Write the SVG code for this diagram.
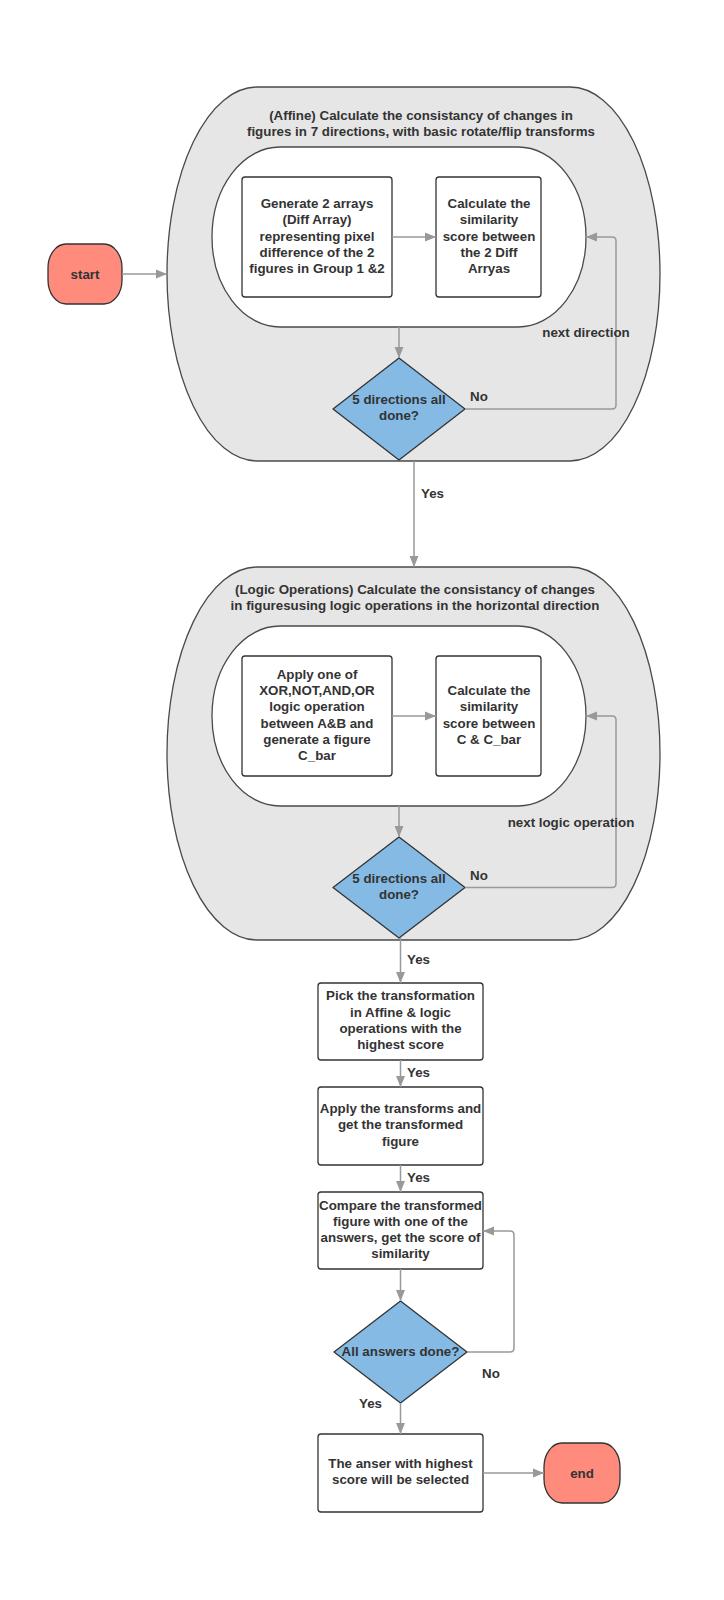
<svg xmlns="http://www.w3.org/2000/svg" width="724" height="1600" viewBox="0 0 724 1600">
<defs>
<marker id="ah" markerUnits="userSpaceOnUse" markerWidth="12" markerHeight="10" refX="11" refY="5" orient="auto">
<path d="M0,0.5 L11,5 L0,9.5 z" fill="#999999"/>
</marker>
<style>
text{font-family:"Liberation Sans",Arial,sans-serif;font-weight:bold;font-size:13.33px;fill:#333333;text-anchor:middle}
.lbl{text-anchor:start}
.cont{fill:#e6e6e6;stroke:#4a4a4a;stroke-width:1.3}
.inner{fill:#ffffff;stroke:#4a4a4a;stroke-width:1.3}
.box{fill:#ffffff;stroke:#333333;stroke-width:1.3}
.dia{fill:#84bae3;stroke:#333333;stroke-width:1.3;stroke-linejoin:round}
.term{fill:#fe8b7c;stroke:#333333;stroke-width:1.3}
.conn path{fill:none;stroke:#999999;stroke-width:1.5;marker-end:url(#ah)}
</style>
</defs>
<rect width="724" height="1600" fill="#ffffff"/>

<g id="start">
<rect class="term" x="48" y="244" width="74" height="60" rx="18" ry="24"/>
<text x="85" y="279">start</text>
</g>

<g id="affine">
<rect class="cont" x="167" y="87" width="493" height="374" rx="90" ry="187"/>
<text x="421" y="120">(Affine) Calculate the consistancy of changes in</text>
<text x="421" y="136">figures in 7 directions, with basic rotate/flip transforms</text>
</g>
<g id="affine-inner">
<rect class="inner" x="212" y="147" width="374" height="180" rx="68" ry="90"/>
</g>
<g id="gen-diff">
<rect class="box" x="242" y="177" width="150" height="120" rx="3"/>
<text x="317" y="208">Generate 2 arrays</text>
<text x="317" y="224">(Diff Array)</text>
<text x="317" y="240.5">representing pixel</text>
<text x="317" y="257">difference of the 2</text>
<text x="317" y="273">figures in Group 1 &amp;2</text>
</g>
<g id="calc-sim1">
<rect class="box" x="436" y="177" width="105" height="120" rx="3"/>
<text x="489" y="208">Calculate the</text>
<text x="489" y="224">similarity</text>
<text x="489" y="240.5">score between</text>
<text x="489" y="257">the 2 Diff</text>
<text x="489" y="273">Arryas</text>
</g>
<g id="dir-done1">
<polygon class="dia" points="399,358 465,409 399,460 333,409"/>
<text x="399" y="404">5 directions all</text>
<text x="399" y="420">done?</text>
</g>

<g id="logic">
<rect class="cont" x="167" y="567" width="493" height="373" rx="90" ry="186.5"/>
<text x="415" y="594">(Logic Operations) Calculate the consistancy of changes</text>
<text x="415" y="610">in figuresusing logic operations in the horizontal direction</text>
</g>
<g id="logic-inner">
<rect class="inner" x="212" y="626" width="374" height="180" rx="68" ry="90"/>
</g>
<g id="apply-logic">
<rect class="box" x="242" y="656" width="150" height="120" rx="3"/>
<text x="317" y="679">Apply one of</text>
<text x="317" y="695">XOR,NOT,AND,OR</text>
<text x="317" y="711">logic operation</text>
<text x="317" y="727.5">between A&amp;B and</text>
<text x="317" y="744">generate a figure</text>
<text x="317" y="760">C_bar</text>
</g>
<g id="calc-sim2">
<rect class="box" x="436" y="656" width="105" height="120" rx="3"/>
<text x="489" y="695">Calculate the</text>
<text x="489" y="711">similarity</text>
<text x="489" y="727.5">score between</text>
<text x="489" y="744">C &amp; C_bar</text>
</g>
<g id="dir-done2">
<polygon class="dia" points="399,837 465,887.5 399,938 333,887.5"/>
<text x="399" y="883">5 directions all</text>
<text x="399" y="899">done?</text>
</g>

<g id="pick">
<rect class="box" x="318" y="983" width="165" height="77" rx="3"/>
<text x="400.5" y="1000">Pick the transformation</text>
<text x="400.5" y="1017">in Affine &amp; logic</text>
<text x="400.5" y="1033">operations with the</text>
<text x="400.5" y="1049">highest score</text>
</g>
<g id="apply">
<rect class="box" x="318" y="1087" width="165" height="78" rx="3"/>
<text x="400.5" y="1113">Apply the transforms and</text>
<text x="400.5" y="1129">get the transformed</text>
<text x="400.5" y="1146">figure</text>
</g>
<g id="compare">
<rect class="box" x="318" y="1192" width="165" height="77" rx="3"/>
<text x="400.5" y="1210">Compare the transformed</text>
<text x="400.5" y="1226">figure with one of the</text>
<text x="400.5" y="1242">answers, get the score of</text>
<text x="400.5" y="1258">similarity</text>
</g>
<g id="answers-done">
<polygon class="dia" points="400.5,1301 467,1352 400.5,1403 334,1352"/>
<text x="400.5" y="1356">All answers done?</text>
</g>
<g id="select">
<rect class="box" x="318" y="1434" width="165" height="78" rx="3"/>
<text x="400.5" y="1468">The anser with highest</text>
<text x="400.5" y="1484">score will be selected</text>
</g>
<g id="end">
<rect class="term" x="544" y="1443" width="76" height="60" rx="18" ry="24"/>
<text x="582" y="1478">end</text>
</g>

<g id="connectors" class="conn">
<path d="M122,274 H167"/>
<path d="M392,237 H436"/>
<path d="M399,327 V358"/>
<path d="M465,409 H612 Q616,409 616,405 V241 Q616,237 612,237 H586"/>
<path d="M414,461 V567"/>
<path d="M392,716 H436"/>
<path d="M399,806 V837"/>
<path d="M465,887.5 H612 Q616,887.5 616,883.5 V720 Q616,716 612,716 H586"/>
<path d="M400.5,938 V983"/>
<path d="M400.5,1060 V1087"/>
<path d="M400.5,1165 V1192"/>
<path d="M400.5,1269 V1301"/>
<path d="M467,1352 H510 Q514,1352 514,1348 V1235 Q514,1231 510,1231 H483"/>
<path d="M400.5,1403 V1434"/>
<path d="M483,1473 H544"/>
</g>
<g id="labels">
<text class="lbl" x="470" y="401">No</text>
<text x="586" y="337">next direction</text>
<text class="lbl" x="421" y="498">Yes</text>
<text class="lbl" x="470" y="880">No</text>
<text x="571" y="827">next logic operation</text>
<text class="lbl" x="407" y="964">Yes</text>
<text class="lbl" x="407" y="1077">Yes</text>
<text class="lbl" x="407" y="1182">Yes</text>
<text class="lbl" x="482" y="1378">No</text>
<text class="lbl" x="359" y="1408">Yes</text>
</g>
</svg>
